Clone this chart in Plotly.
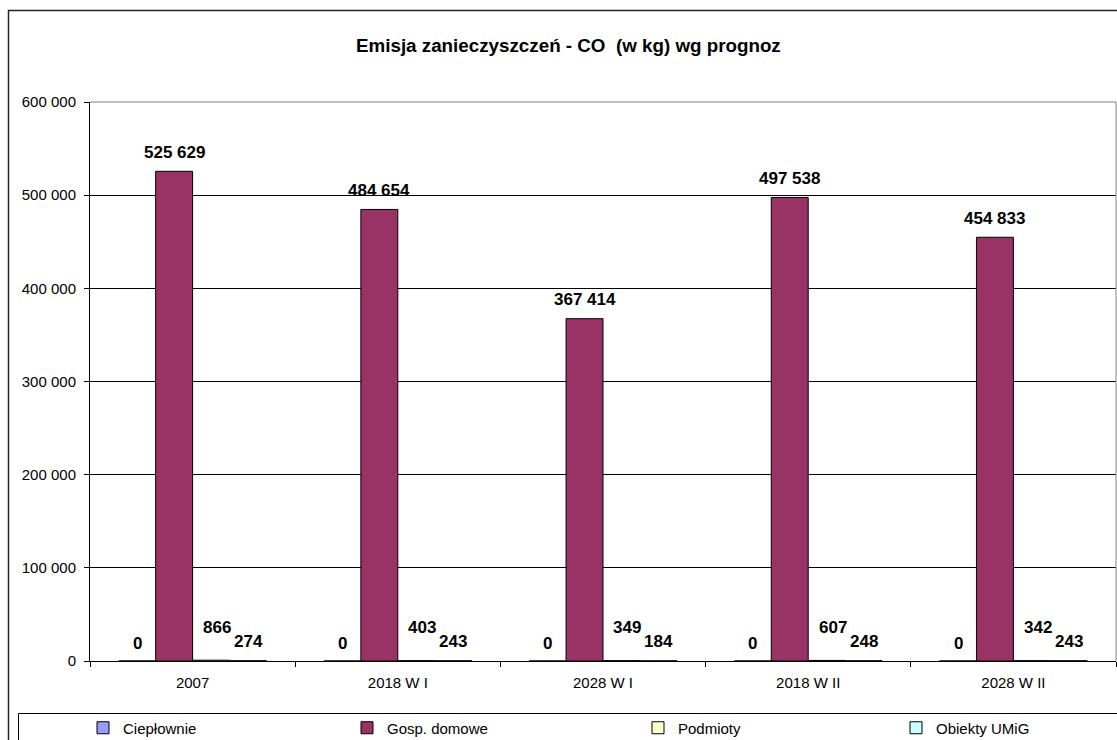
import plotly.graph_objects as go

# Emission of CO (kg) by source, actual 2007 and forecast variants
categories = ["2007", "2018 W I", "2028 W I", "2018 W II", "2028 W II"]
series_names = ["Ciepłownie", "Gosp. domowe", "Podmioty", "Obiekty UMiG"]
cieplownie = [0, 0, 0, 0, 0]
gosp_domowe = [525629, 484654, 367414, 497538, 454833]
podmioty = [866, 403, 349, 607, 342]
obiekty_umig = [274, 243, 184, 248, 243]
y_ticks = [0, 100000, 200000, 300000, 400000, 500000, 600000]

series_values = [cieplownie, gosp_domowe, podmioty, obiekty_umig]
colors = ["#9999FF", "#993366", "#FFFFCC", "#CCFFFF"]

W, H = 1117, 740
BARGAP = 0.28
N = len(series_names)
bar_w = (1 - BARGAP) / N

# label placement (pixels) per series
label_dx = [0, 0, 6, 0]
label_dy = [18, 19, 33, 19]

# legend text positions (px from left)
legend_x = [83, 347, 638, 896]


def px(x):
    return x / W


def py(y):
    return 1 - y / H


def fmt(v):
    return f"{v:,}".replace(",", " ")


fig = go.Figure()
legend_ids = ["legend", "legend2", "legend3", "legend4"]
for i, (name, vals) in enumerate(zip(series_names, series_values)):
    fig.add_trace(go.Bar(
        x=categories, y=vals, name=name,
        marker=dict(color=colors[i], line=dict(color="black", width=1)),
        legend=legend_ids[i],
    ))

annotations = []
for i, vals in enumerate(series_values):
    off = (i - (N - 1) / 2) * bar_w
    for j, v in enumerate(vals):
        annotations.append(dict(
            x=j + off, y=v, xref="x", yref="y",
            text=f"<b>{fmt(v)}</b>", showarrow=False,
            xanchor="center", yanchor="middle",
            xshift=label_dx[i], yshift=label_dy[i],
            font=dict(family="Liberation Sans, Arial", size=17, color="black"),
        ))

annotations.append(dict(
    x=px(568), y=py(45), xref="paper", yref="paper",
    text="<b>Emisja zanieczyszczeń - CO  (w kg) wg prognoz</b>",
    showarrow=False, xanchor="center", yanchor="middle",
    font=dict(family="Liberation Sans, Arial", size=18.8, color="black"),
))

shapes = [
    # chart frame
    dict(type="rect", xref="paper", yref="paper",
         x0=px(8.5), x1=px(1130), y0=py(760), y1=py(10.5),
         line=dict(color="#222222", width=1.5), fillcolor="rgba(0,0,0,0)", layer="below"),
    # legend frame
    dict(type="rect", xref="paper", yref="paper",
         x0=px(18.5), x1=px(1130), y0=py(760), y1=py(713.5),
         line=dict(color="black", width=1), fillcolor="rgba(0,0,0,0)", layer="below"),
    # plot area border (top, right)
    dict(type="line", xref="paper", yref="paper",
         x0=px(90), x1=px(1116), y0=py(102), y1=py(102),
         line=dict(color="#808080", width=1)),
    dict(type="line", xref="paper", yref="paper",
         x0=px(1116), x1=px(1116), y0=py(102), y1=py(661),
         line=dict(color="#808080", width=1)),
]

legend_common = dict(
    orientation="h", yanchor="middle", xanchor="left",
    bgcolor="rgba(0,0,0,0)", borderwidth=0,
    font=dict(family="Liberation Sans, Arial", size=15, color="black"),
)
layout_legends = {}
for i, lid in enumerate(legend_ids):
    layout_legends[lid] = dict(legend_common, x=px(legend_x[i]), y=py(728))

fig.update_layout(
    width=W, height=H,
    margin=dict(l=0, r=0, t=0, b=0, autoexpand=False),
    paper_bgcolor="white", plot_bgcolor="white",
    barmode="group", bargap=BARGAP, bargroupgap=0,
    separators=", ",
    showlegend=True,
    font=dict(family="Liberation Sans, Arial", size=15, color="black"),
    xaxis=dict(
        domain=[px(90), px(1116)],
        type="category",
        showline=True, linecolor="black", linewidth=1,
        ticks="outside", ticklen=5, tickcolor="black", tickson="boundaries",
        ticklabelstandoff=8,
        showgrid=False,
        tickfont=dict(size=15),
    ),
    yaxis=dict(
        domain=[py(661), py(102)],
        range=[0, 600000],
        tickvals=y_ticks,
        tickformat=",d",
        showline=True, linecolor="black", linewidth=1,
        ticks="outside", ticklen=5, tickcolor="black",
        ticklabelstandoff=5,
        showgrid=True, gridcolor="black", gridwidth=1,
        zeroline=False,
        tickfont=dict(size=15),
    ),
    annotations=annotations,
    shapes=shapes,
    **layout_legends,
)

fig.write_html("out.html")
